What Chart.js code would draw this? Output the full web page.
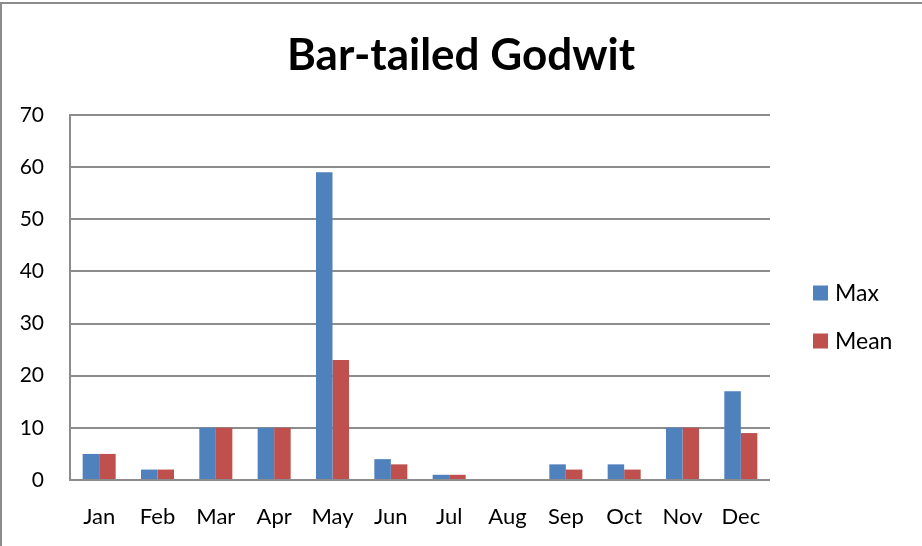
<!DOCTYPE html>
<html>
<head>
<meta charset="utf-8">
<script src="https://cdn.jsdelivr.net/npm/chart.js@4/dist/chart.umd.min.js"></script>
<style>
  html, body { margin: 0; padding: 0; background: #fff; }
  #wrap { position: relative; width: 922px; height: 546px; overflow: hidden; }
  #frame { position: absolute; left: 0; top: 2px; width: 940px; height: 560px;
           border-top: 2px solid #8c8c8c; border-left: 2px solid #8c8c8c; pointer-events: none; }
  canvas { position: absolute; left: 0; top: 0; }
</style>
</head>
<body>
<div id="wrap">
  <canvas id="c" width="922" height="546"></canvas>
  <div id="frame"></div>
</div>
<script>
const chartTitle = "Bar-tailed Godwit";
const months = ["Jan","Feb","Mar","Apr","May","Jun","Jul","Aug","Sep","Oct","Nov","Dec"];
const maxValues  = [5, 2, 10, 10, 59, 4, 1, 0, 3, 3, 10, 17];
const meanValues = [5, 2, 10, 10, 23, 3, 1, 0, 2, 2, 10, 9];
const seriesNames = ["Max", "Mean"];
const seriesColors = ["#4F81BD", "#C0504D"];
const yTicks = [0, 10, 20, 30, 40, 50, 60, 70];

const FONT = "Lato, 'Open Sans', 'Liberation Sans', sans-serif";

const titleAndLegend = {
  id: 'titleAndLegend',
  afterDraw(chart) {
    const ctx = chart.ctx;
    const ca = chart.chartArea;
    ctx.save();
    // title centred on the full canvas
    ctx.font = "bold 44px " + FONT;
    ctx.fillStyle = '#000';
    ctx.textAlign = 'center';
    ctx.textBaseline = 'alphabetic';
    ctx.fillText(chartTitle, chart.width / 2, 70);
    // legend on the right
    const x = ca.right + 43;
    const ys = [ca.top + 178, ca.top + 226];
    ctx.font = "23px " + FONT;
    ctx.textBaseline = 'middle';
    ctx.textAlign = 'left';
    chart.data.datasets.forEach((ds, i) => {
      ctx.fillStyle = ds.backgroundColor;
      ctx.fillRect(x, ys[i] - 7.5, 15, 15);
      ctx.fillStyle = '#000';
      ctx.fillText(ds.label, x + 22, ys[i] + 1);
    });
    ctx.restore();
  }
};

new Chart(document.getElementById('c'), {
  type: 'bar',
  data: {
    labels: months,
    datasets: [
      { label: seriesNames[0], data: maxValues, backgroundColor: seriesColors[0] },
      { label: seriesNames[1], data: meanValues, backgroundColor: seriesColors[1] }
    ]
  },
  options: {
    responsive: false,
    animation: false,
    devicePixelRatio: 1,
    layout: { padding: { left: 0, right: 152, top: 115, bottom: 0 } },
    datasets: { bar: { barPercentage: 1.0, categoryPercentage: 0.566, borderWidth: 0 } },
    plugins: {
      legend: { display: false },
      tooltip: { enabled: false },
      title: { display: false }
    },
    scales: {
      x: {
        grid: { display: false, drawTicks: false },
        border: { display: false },
        ticks: { color: '#000', font: { family: FONT, size: 22 }, padding: 24, maxRotation: 0, autoSkip: false },
        afterFit(scale) { scale.height = 66; }
      },
      y: {
        min: 0, max: 70,
        afterBuildTicks(scale) { scale.ticks = yTicks.map(v => ({ value: v })); },
        grid: { color: '#8c8c8c', lineWidth: 2, drawTicks: false },
        border: { display: true, color: '#8c8c8c', width: 2 },
        ticks: { color: '#000', font: { family: FONT, size: 21 }, padding: 26 },
        afterFit(scale) { scale.width = 70; }
      }
    }
  },
  plugins: [titleAndLegend]
});
</script>
</body>
</html>
